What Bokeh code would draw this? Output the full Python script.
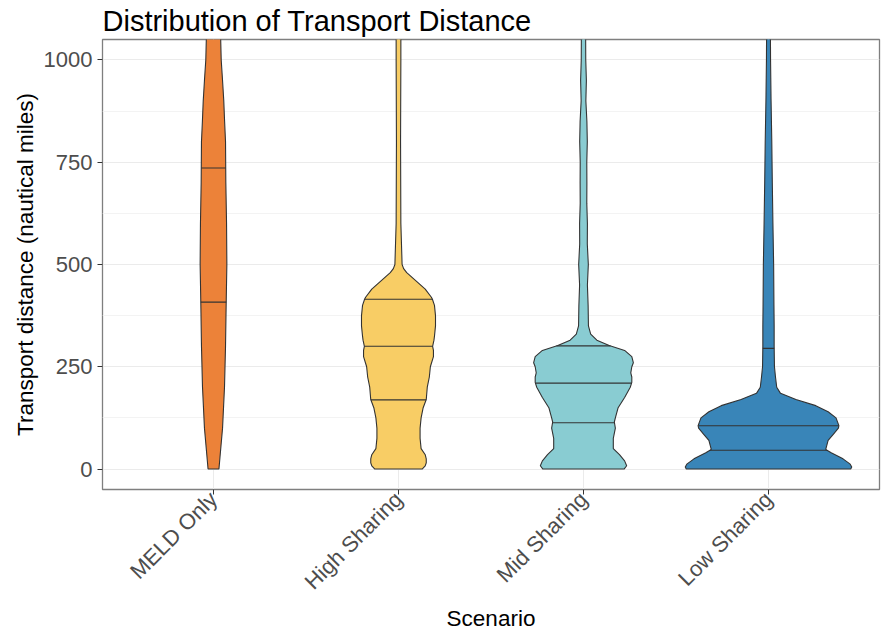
import math
import numpy as np
from bokeh.plotting import figure
from bokeh.models import Range1d, FixedTicker, ColumnDataSource
from bokeh.embed import file_html
from bokeh.resources import INLINE

# ---------------- data ----------------
scenarios = ["MELD Only", "High Sharing", "Mid Sharing", "Low Sharing"]
colors = ["#EC8239", "#F8CD65", "#89CCD2", "#3985B8"]

# density profiles: distance levels (nautical miles) and relative density
meld_y = [0, 100, 200, 300, 400, 500, 600, 700, 800, 850, 900, 950, 1000, 1050, 1100]
meld_d = [5.3, 8.8, 10.7, 11.7, 12.3, 13.0, 12.7, 12.0, 11.7, 10.8, 10.0, 8.8, 7.5, 7.0, 6.8]
meld_q = [408, 736]

high_y = [0, 8, 15, 25, 35, 50, 75, 100, 125, 150, 170, 200, 225, 250, 275, 290, 300,
          315, 325, 350, 375, 400, 415, 420, 440, 460, 480, 490, 500, 600, 800, 1000, 1100]
high_d = [23, 26, 27, 27, 26, 22, 21, 21, 22, 24, 27, 28, 30, 31, 34, 34, 33.2,
          34.5, 35, 36, 36, 35, 33, 32, 26, 17, 8, 5, 3.5, 2.3, 2.0, 2.3, 2.3]
high_q = [169, 300, 415]

mid_y = [0, 8, 20, 35, 50, 75, 100, 115, 125, 150, 175, 200, 212, 225, 235, 250, 260,
         275, 290, 302, 315, 330, 350, 400, 450, 500, 550, 600, 650, 700, 750, 800,
         850, 900, 950, 1000, 1100]
mid_d = [39.5, 42, 40, 35, 29, 29, 31, 30, 31, 33.7, 40, 45.5, 47, 47, 46, 47, 48.5,
         47, 40, 25, 13, 7, 4.8, 4.5, 3.8, 4.7, 3.7, 3.8, 3.2, 3.3, 3.2, 3.7,
         3.3, 2.3, 2.8, 2.2, 2.0]
mid_q = [113, 210, 301]

low_y = [0, 5, 12, 25, 40, 48, 70, 85, 100, 106, 125, 140, 155, 170, 185, 200, 225,
         250, 300, 350, 400, 500, 600, 700, 800, 900, 1000, 1100]
low_d = [80, 81, 79.5, 72.5, 61, 55.7, 58, 63, 68, 68.5, 65.7, 58, 46, 26.7, 11.7, 8, 6.8,
         5.8, 5.5, 5.5, 5.3, 5.0, 4.3, 3.7, 3.2, 2.5, 2.0, 1.8]
low_q = [46, 106, 295]

y_ticks = [0, 250, 500, 750, 1000]
y_minor = [125, 375, 625, 875]

profiles = [(meld_y, meld_d, meld_q), (high_y, high_d, high_q),
            (mid_y, mid_d, mid_q), (low_y, low_d, low_q)]

# ---------------- build violins ----------------
FONT = "Liberation Sans"
vwidth = 0.9
dmax = max(max(d) for _, d, _ in profiles)

xs, ys, fills = [], [], []
sx0, sx1, sy = [], [], []
for i, (yy, dd, qq) in enumerate(profiles):
    c = i + 1
    yy = np.asarray(yy, float)
    half = np.asarray(dd, float) / dmax * vwidth / 2
    xs.append(list(np.concatenate([c - half, (c + half)[::-1]])))
    ys.append(list(np.concatenate([yy, yy[::-1]])))
    fills.append(colors[i])
    for q in qq:
        h = float(np.interp(q, yy, half))
        sx0.append(c - h)
        sx1.append(c + h)
        sy.append(q)

p = figure(width=883, height=634, output_backend="svg", toolbar_location=None,
           x_range=Range1d(0.4, 4.6), y_range=Range1d(-50, 1050),
           min_border_left=102, min_border_right=4, min_border_top=39,
           min_border_bottom=143,
           title="Distribution of Transport Distance")

p.patches(xs="xs", ys="ys", fill_color="fill", line_color="#333333", line_width=1.1,
          source=ColumnDataSource(dict(xs=xs, ys=ys, fill=fills)))
p.segment(x0=sx0, x1=sx1, y0=sy, y1=sy, line_color="#333333", line_width=1.1)

# title
p.title.text_font = FONT
p.title.text_font_size = "29px"
p.title.text_font_style = "normal"
p.title.text_color = "#000000"
p.title.standoff = 5
p.title.offset = 0

# axes
p.xaxis.ticker = FixedTicker(ticks=[1, 2, 3, 4])
p.xaxis.major_label_overrides = {i + 1: s for i, s in enumerate(scenarios)}
p.xaxis.major_label_orientation = math.pi / 4
p.yaxis.ticker = FixedTicker(ticks=y_ticks, minor_ticks=y_minor)
p.xaxis.axis_label = "Scenario"
p.yaxis.axis_label = "Transport distance (nautical miles)"
for ax in (p.xaxis, p.yaxis):
    ax.axis_line_color = None
    ax.major_tick_line_color = "#333333"
    ax.major_tick_out = 5
    ax.major_tick_in = 0
    ax.minor_tick_line_color = None
    ax.major_label_text_font = FONT
    ax.major_label_text_font_size = "22px"
    ax.major_label_text_color = "#4D4D4D"
    ax.axis_label_text_font = FONT
    ax.axis_label_text_font_size = "22.5px"
    ax.axis_label_text_font_style = "normal"
    ax.axis_label_text_color = "#000000"
p.yaxis.major_label_standoff = 5
p.xaxis.major_label_standoff = 1
p.yaxis.axis_label_standoff = 3
p.xaxis.axis_label_standoff = 0

# grid
p.xgrid.grid_line_color = "#EBEBEB"
p.ygrid.grid_line_color = "#EBEBEB"
p.ygrid.minor_grid_line_color = "#F3F3F3"
p.xgrid.grid_line_width = 1
p.ygrid.grid_line_width = 1

p.outline_line_color = "#7F7F7F"
p.outline_line_width = 1.3
p.background_fill_color = "white"
p.border_fill_color = "white"

open("out.html", "w").write(file_html(p, INLINE))
